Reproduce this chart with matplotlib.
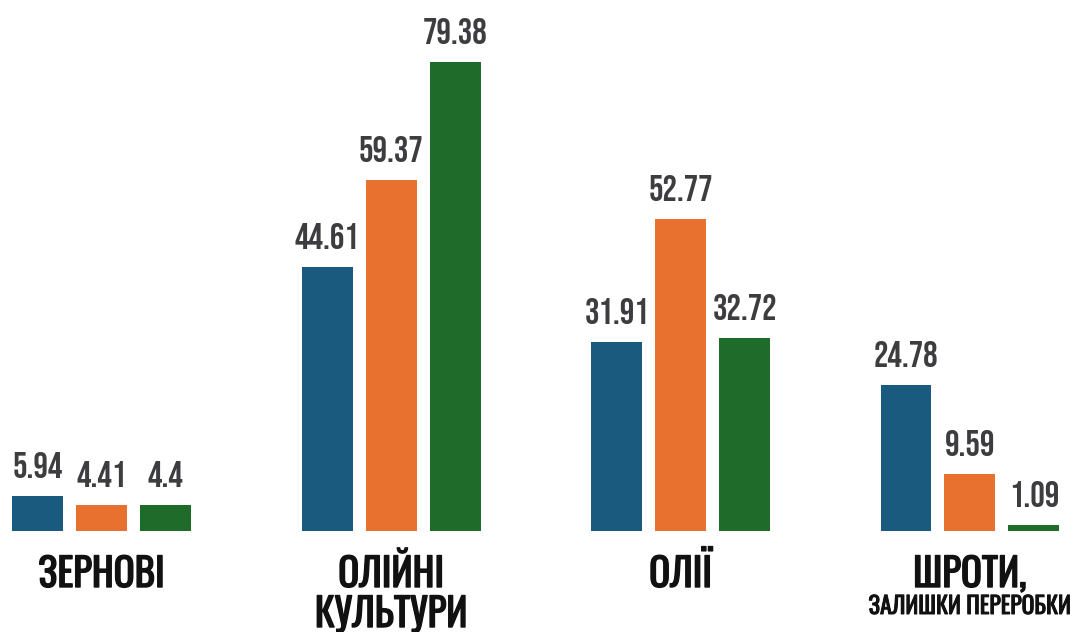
import numpy as np
import matplotlib
matplotlib.use('Agg')
import matplotlib.pyplot as plt
import matplotlib.patheffects as pe

categories = ['ЗЕРНОВІ', 'ОЛІЙНІ\nКУЛЬТУРИ', 'ОЛІЇ', 'ШРОТИ,']
subtitles = ['', '', '', 'ЗАЛИШКИ ПЕРЕРОБКИ']
series_a = [5.94, 44.61, 31.91, 24.78]
series_b = [4.41, 59.37, 52.77, 9.59]
series_c = [4.4, 79.38, 32.72, 1.09]
labels_a = ['5.94', '44.61', '31.91', '24.78']
labels_b = ['4.41', '59.37', '52.77', '9.59']
labels_c = ['4.4', '79.38', '32.72', '1.09']

colors = ['#1b5a7f', '#e8712f', '#1f6b2a']
num_font = ['Bebas Neue', 'Oswald', 'DejaVu Sans']
cat_font = ['Oswald', 'PT Sans Narrow', 'DejaVu Sans']

W, H = 1077, 632
fig = plt.figure(figsize=(W / 100, H / 100), dpi=100)
ax = fig.add_axes([0, 101 / H, 1, (H - 101) / H])
ax.axis('off')

x = np.arange(len(categories))
off = 0.221
width = 0.176

for vals, labs, c, dx in zip([series_a, series_b, series_c],
                             [labels_a, labels_b, labels_c],
                             colors, [-off, 0, off]):
    bars = ax.bar(x + dx, vals, width, color=c)
    for b, lab in zip(bars, labs):
        ax.annotate(lab, (b.get_x() + b.get_width() / 2, b.get_height()),
                    xytext=(0, 18), textcoords='offset pixels',
                    ha='center', va='baseline', fontsize=26,
                    color='#3d3d40', family=num_font)

ax.set_xlim(-0.352, 3.37)
ax.set_ylim(0, 89.85)

# category names under each group (stroke to thicken the single-weight font)
heavy = [pe.withStroke(linewidth=1.0, foreground='#111111')]
for i, (cat, sub) in enumerate(zip(categories, subtitles)):
    for k, line in enumerate(cat.split('\n')):
        ax.annotate(line, (i, 0), xytext=(0, -56 - 40 * k), textcoords='offset pixels',
                    ha='center', va='baseline', fontsize=28,
                    color='#111111', family=cat_font, path_effects=heavy)
    if sub:
        ax.annotate(sub, (i, 0), xytext=(0, -83), textcoords='offset pixels',
                    ha='center', va='baseline', fontsize=17,
                    color='#111111', family=cat_font,
                    path_effects=[pe.withStroke(linewidth=0.7, foreground='#111111')])

fig.savefig('out.png', dpi=100)
